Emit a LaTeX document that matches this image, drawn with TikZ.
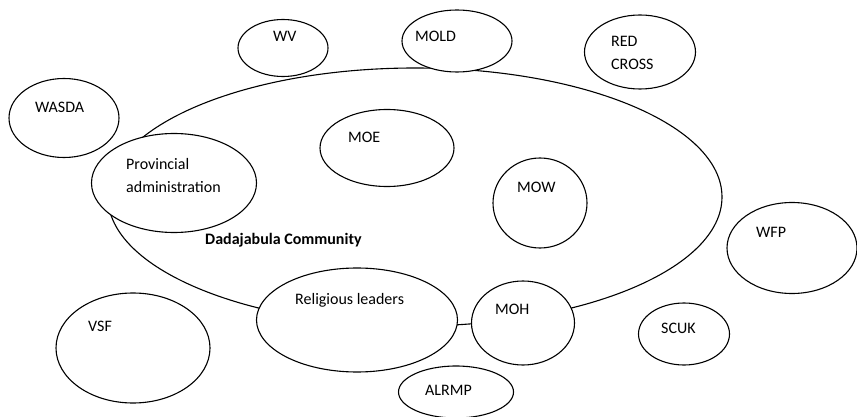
\documentclass[tikz,border=0pt]{standalone}
\usepackage{fontspec}
\setmainfont{Carlito}
\usepackage{tikz}
\usetikzlibrary{shapes.geometric}

\begin{document}
\begin{tikzpicture}[x=1pt,y=-1pt,
        attore/.style={draw, ellipse, fill=white, line width=1.1pt, inner sep=0pt},
        nome/.style={anchor=base west, inner sep=0pt, align=left, font=\fontsize{16}{23}\selectfont}]
        \useasboundingbox (0,0) rectangle (857,417);

        % Comunita' (il tratto tra Religious leaders e MOH e' il suo bordo)
        \node[attore, fill=none, minimum width=614pt, minimum height=258pt] (comm) at (415,197) {};
        \node[nome, font=\fontsize{16}{23}\selectfont\bfseries] (comm-t) at (205,244) {Dadajabula Community};

        % Attori in alto
        \node[attore, minimum width=90pt, minimum height=57pt] (wv) at (283,48) {};
        \node[nome] (wv-t) at (273,42) {WV};

        \node[attore, minimum width=110pt, minimum height=62pt] (mold) at (457,41) {};
        \node[nome] (mold-t) at (415,42) {MOLD};

        \node[attore, minimum width=111pt, minimum height=74pt] (redcross) at (640,52) {};
        \node[nome] (redcross-t) at (611,70) {RED\\CROSS}; % base = ultima riga

        \node[attore, minimum width=110pt, minimum height=79pt] (wasda) at (64,118) {};
        \node[nome] (wasda-t) at (35,113) {WASDA};

        % Attori dentro la comunita'
        \node[attore, minimum width=165pt, minimum height=99pt] (prov) at (174,183) {};
        \node[nome] (prov-t) at (126,193) {Provincial\\administration};

        \node[attore, minimum width=134pt, minimum height=77pt] (moe) at (387,148) {};
        \node[nome] (moe-t) at (348,143) {MOE};

        \node[attore, minimum width=94pt, minimum height=90pt] (mow) at (540,203) {};
        \node[nome] (mow-t) at (517,193) {MOW};

        \node[attore, minimum width=201pt, minimum height=104pt] (rel) at (357,320) {};
        \node[nome] (rel-t) at (295,304) {Religious leaders};

        \node[attore, minimum width=103pt, minimum height=84pt] (moh) at (523,323) {};
        \node[nome] (moh-t) at (495,314) {MOH};

        % Attori in basso e a destra
        \node[attore, minimum width=130pt, minimum height=91pt] (wfp) at (792,248) {};
        \node[nome] (wfp-t) at (756,237) {WFP};

        \node[attore, minimum width=91pt, minimum height=62pt] (scuk) at (684,334) {};
        \node[nome] (scuk-t) at (661,333) {SCUK};

        \node[attore, minimum width=115pt, minimum height=52pt] (alrmp) at (456,392) {};
        \node[nome] (alrmp-t) at (425,395) {ALRMP};

        \node[attore, minimum width=154pt, minimum height=110pt] (vsf) at (133,348) {};
        \node[nome] (vsf-t) at (88,331) {VSF};
    \end{tikzpicture}
\end{document}
